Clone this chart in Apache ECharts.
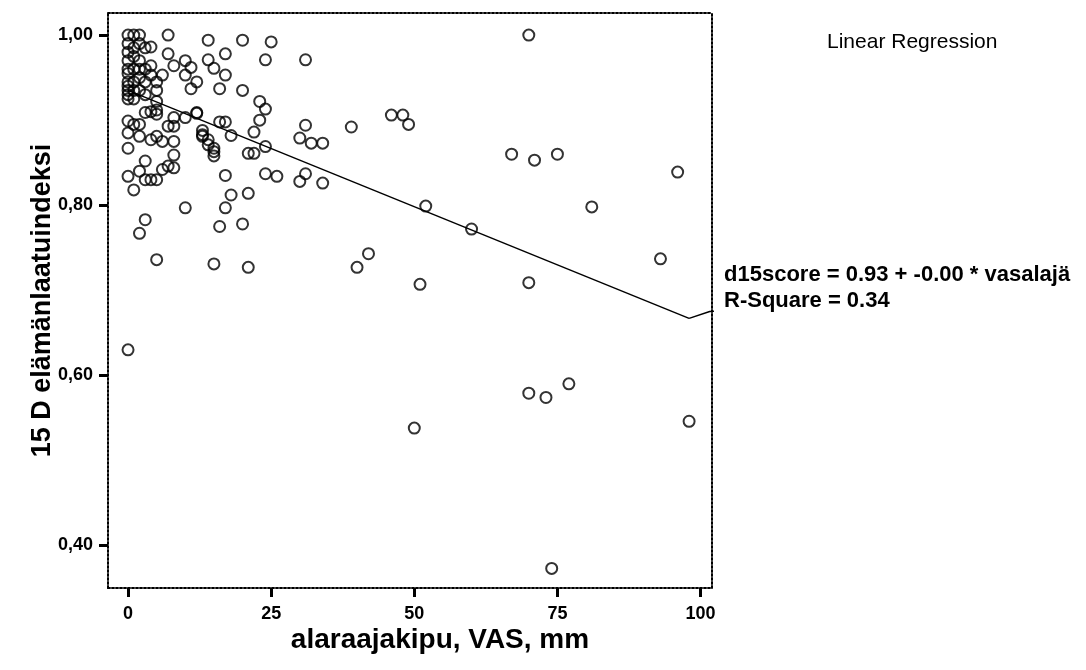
<!DOCTYPE html>
<html>
<head>
<meta charset="utf-8">
<script src="https://cdn.jsdelivr.net/npm/echarts@6/dist/echarts.min.js"></script>
<style>
html,body{margin:0;padding:0;background:#fff;}
#chart{width:1086px;height:670px;}
</style>
</head>
<body>
<div id="chart"></div>
<script>
// VAS (mm) values
const vas = [
 0,0,0,0,0,0,0,0,0,0,0,0,0,0,0,0,
 1,1,1,1,1,1,1,1,1,
 2,2,2,2,2,2,2,2,2,2,
 3,3,3,3,3,3,3,3,
 4,4,4,4,4,4,
 5,5,5,5,5,5,5,5,
 6,6,6,
 7,7,7,7,
 8,8,8,8,8,8,
 10,10,10,10,
 11,11,
 12,12,12,
 13,13,13,
 14,14,14,14,
 15,15,15,15,15,
 16,16,16,
 17,17,17,17,17,
 18,18,
 20,20,20,
 21,21,21,
 22,22,
 23,23,
 24,24,24,24,
 25,26,30,30,31,31,31,32,34,34,
 39,40,42,46,48,49,50,51,52,60,67,
 70,70,70,71,73,74,75,77,81,93,96,98
];
// 15D quality of life index values
const d15 = [
 1.00,0.99,0.98,0.97,0.96,0.955,0.945,0.94,0.935,0.93,0.925,0.899,0.885,0.867,0.834,0.63,
 1.00,0.985,0.975,0.96,0.945,0.935,0.925,0.895,0.818,
 1.00,0.99,0.97,0.96,0.95,0.935,0.895,0.881,0.84,0.767,
 0.985,0.96,0.945,0.93,0.909,0.852,0.83,0.783,
 0.986,0.964,0.953,0.91,0.877,0.83,
 0.945,0.935,0.922,0.912,0.907,0.881,0.83,0.736,
 0.953,0.875,0.842,
 1.00,0.978,0.893,0.846,
 0.964,0.903,0.893,0.875,0.859,0.844,
 0.970,0.953,0.903,0.797,
 0.962,0.937,
 0.945,0.909,0.908,
 0.888,0.883,0.881,
 0.994,0.971,0.877,0.871,
 0.961,0.867,0.863,0.858,0.731,
 0.937,0.898,0.775,
 0.978,0.953,0.898,0.835,0.797,
 0.882,0.812,
 0.994,0.935,0.778,
 0.861,0.814,0.727,
 0.886,0.861,
 0.922,0.900,
 0.971,0.913,0.869,0.837,
 0.992,0.834,0.879,0.828,0.971,0.894,0.837,0.873,0.873,0.826,
 0.892,0.727,0.743,0.906,0.906,0.895,0.538,0.707,0.799,0.772,0.860,
 1.00,0.709,0.579,0.853,0.574,0.373,0.860,0.590,0.798,0.737,0.839,0.546
];
// fitted regression line end points
const fitX = [0, 98];
const fitY = [0.935, 0.667];
// leader from line end to the equation label
const leadX = [98, 101.6, 103.6];
const leadY = [0.667, 0.675, 0.676];
const xTicks = [0, 25, 50, 75, 100];
const yTicks = [0.40, 0.60, 0.80, 1.00];

const pts = vas.map((v, i) => [v, d15[i]]);
const fit = fitX.map((v, i) => [v, fitY[i]]);
const lead = leadX.map((v, i) => [v, leadY[i]]);

const FONT = '"Liberation Sans",Arial,Helvetica,sans-serif';
const tickFont = {color:'#000', fontFamily:FONT, fontWeight:'bold', fontSize:18};
const dotted = {color:'#000', width:2, type:'dotted'};

const chart = echarts.init(document.getElementById('chart'), null, {renderer:'canvas'});
chart.setOption({
  animation:false,
  backgroundColor:'#fff',
  title:[
    {text:'Linear Regression', left:822, top:27, textStyle:{fontFamily:FONT, fontWeight:'normal', fontSize:21, color:'#000'}},
    {text:'d15score = 0.93 + -0.00 * vasalajä', left:719, top:259, textStyle:{fontFamily:FONT, fontWeight:'bold', fontSize:22, color:'#000'}},
    {text:'R-Square = 0.34', left:719, top:285, textStyle:{fontFamily:FONT, fontWeight:'bold', fontSize:22, color:'#000'}}
  ],
  grid:{left:108, right:374, top:13, bottom:82, containLabel:false},
  xAxis:[
    {type:'value', min:-3.5, max:102, position:'bottom',
     name:'alaraajakipu, VAS, mm', nameLocation:'middle', nameGap:38, nameMoveOverlap:false,
     nameTextStyle:{fontFamily:FONT, fontWeight:'bold', fontSize:28, color:'#000', padding:[0,0,0,60]},
     axisLine:{show:true, onZero:false, lineStyle:dotted},
     axisTick:{show:true, inside:false, length:9, customValues:xTicks, lineStyle:{color:'#000', width:3}},
     axisLabel:{show:true, margin:17, customValues:xTicks, ...tickFont, formatter:v=>String(v)},
     splitLine:{show:false}},
    {type:'value', min:-3.5, max:102, position:'top',
     axisLine:{show:true, onZero:false, lineStyle:dotted},
     axisTick:{show:false}, axisLabel:{show:false}, splitLine:{show:false}}
  ],
  yAxis:[
    {type:'value', min:0.35, max:1.026, position:'left',
     name:'15 D elämänlaatuindeksi', nameLocation:'middle', nameGap:52, nameMoveOverlap:false,
     nameTextStyle:{fontFamily:FONT, fontWeight:'bold', fontSize:27, color:'#000'},
     axisLine:{show:true, onZero:false, lineStyle:dotted},
     axisTick:{show:true, inside:false, length:9, customValues:yTicks, lineStyle:{color:'#000', width:3}},
     axisLabel:{show:true, margin:15, customValues:yTicks, ...tickFont, formatter:v=>v.toFixed(2).replace('.', ',')},
     splitLine:{show:false}},
    {type:'value', min:0.35, max:1.026, position:'right',
     axisLine:{show:true, onZero:false, lineStyle:dotted},
     axisTick:{show:false}, axisLabel:{show:false}, splitLine:{show:false}}
  ],
  series:[
    {type:'scatter', data:pts, symbol:'circle', symbolSize:11,
     itemStyle:{color:'rgba(255,255,255,0)', borderColor:'#000', borderWidth:2}},
    {type:'line', data:fit, symbol:'none', lineStyle:{color:'#000', width:1.5}},
    {type:'line', data:lead, symbol:'none', clip:false, lineStyle:{color:'#000', width:1.5}}
  ]
});
</script>
</body>
</html>
